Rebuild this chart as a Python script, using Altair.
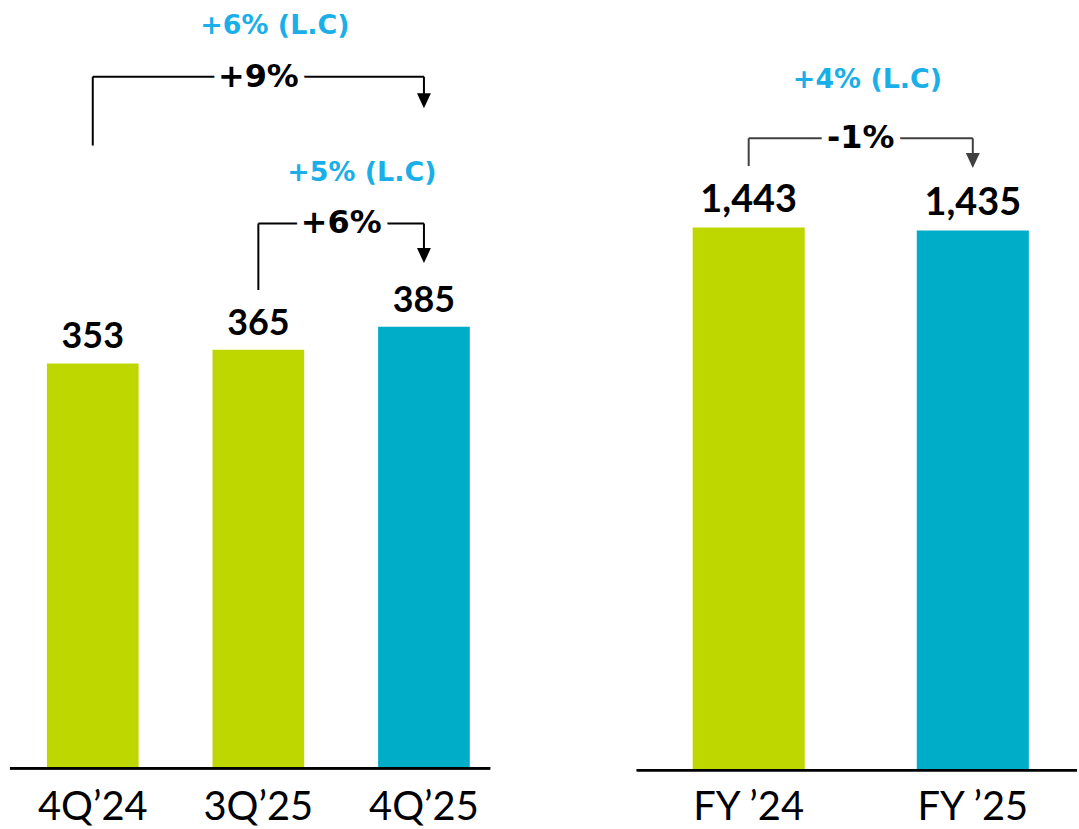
import altair as alt
import pandas as pd

# ---------------- data ----------------
q_labels = ["4Q’24", "3Q’25", "4Q’25"]
q_values = [353, 365, 385]
q_kind = ["prior", "prior", "current"]

fy_labels = ["FY ’24", "FY ’25"]
fy_values = [1443, 1435]
fy_kind = ["prior", "current"]

# growth annotations (from bar index -> to bar index)
q_from = [0, 1]
q_to = [2, 2]
q_change = ["+9%", "+6%"]
q_lc = ["+6%  (L.C)", "+5%  (L.C)"]

fy_from = [0]
fy_to = [1]
fy_change = ["-1%"]
fy_lc = ["+4%  (L.C)"]

# ---------------- annotation placement (data units) ----------------
q_start = [543, 417]      # bottom of the left bracket leg
q_level = [603, 475]      # bracket level
q_arrow = [582, 447]      # arrow head centre
q_lc_level = [647, 519]   # local-currency label level
q_lc_shift = [0.10, 0.125]  # horizontal shift of the local-currency label

fy_start = [1606]
fy_level = [1680]
fy_arrow = [1621]
fy_lc_level = [1834]
fy_lc_shift = [0.03]

# ---------------- style ----------------
GREEN = "#BFD700"
BLUE = "#00ADC9"
LIGHT_BLUE = "#1AAFE8"
FONT = "Lato"
ANN_FONT = "DejaVu Sans"
H = 829


def panel(labels, values, kinds, a_from, a_to, a_change, a_lc, a_start, a_level,
          a_arrow, a_lc_level, a_lc_shift, width, xdomain, ydomain, half, value_size,
          line_color, cat_dy):
    n = len(labels)
    bars = pd.DataFrame({"label": labels, "value": values, "kind": kinds, "idx": list(range(n))})
    xs = alt.Scale(domain=xdomain, nice=False, zero=False)
    ys = alt.Scale(domain=ydomain, nice=False, zero=False)

    base = alt.Chart(bars)
    bar = base.transform_calculate(
        x0=f"datum.idx - {half}", x1=f"datum.idx + {half}"
    ).mark_bar().encode(
        x=alt.X("x0:Q", scale=xs, axis=None),
        x2="x1:Q",
        y=alt.Y("value:Q", scale=ys, axis=None),
        y2=alt.datum(0),
        color=alt.Color("kind:N", scale=alt.Scale(domain=["prior", "current"], range=[GREEN, BLUE]), legend=None),
    )
    baseline = base.mark_rule(color="#000000", strokeWidth=2.5).encode(y=alt.datum(0))
    vals = base.mark_text(font=FONT, fontWeight="bold", fontSize=value_size, baseline="alphabetic",
                          dy=-15, color="#000000").encode(
        x=alt.X("idx:Q", scale=xs), y=alt.Y("value:Q", scale=ys), text=alt.Text("value:Q", format=",")
    )
    cats = base.mark_text(font=FONT, fontSize=40, baseline="alphabetic", dy=cat_dy, color="#000000").encode(
        x=alt.X("idx:Q", scale=xs), y=alt.datum(0), text="label:N"
    )

    segs = []
    for f, t, s, l, a in zip(a_from, a_to, a_start, a_level, a_arrow):
        segs.append({"x": f, "x2": f, "y": s, "y2": l})
        segs.append({"x": f, "x2": t, "y": l, "y2": l})
        segs.append({"x": t, "x2": t, "y": l, "y2": a})
    seg_df = pd.DataFrame(segs)
    lines = alt.Chart(seg_df).mark_rule(color=line_color, strokeWidth=2).encode(
        x=alt.X("x:Q", scale=xs), x2="x2:Q", y=alt.Y("y:Q", scale=ys), y2="y2:Q"
    )
    ann = pd.DataFrame({
        "mid": [(f + t) / 2 for f, t in zip(a_from, a_to)],
        "lc_x": [(f + t) / 2 + s for f, t, s in zip(a_from, a_to, a_lc_shift)],
        "to": a_to, "level": a_level, "arrow": a_arrow,
        "change": a_change, "lc": a_lc, "lc_level": a_lc_level,
    })
    achart = alt.Chart(ann)
    heads = achart.mark_point(shape="M-0.93,-1L0.93,-1L0,1Z", filled=True, size=225, opacity=1,
                              color=line_color).encode(
        x=alt.X("to:Q", scale=xs), y=alt.Y("arrow:Q", scale=ys)
    )
    halo = achart.mark_text(font=ANN_FONT, fontWeight="bold", fontSize=32, baseline="middle",
                            color="white", stroke="white", strokeWidth=14, strokeJoin="round").encode(
        x=alt.X("mid:Q", scale=xs), y=alt.Y("level:Q", scale=ys), text="change:N"
    )
    change = achart.mark_text(font=ANN_FONT, fontWeight="bold", fontSize=32, baseline="middle",
                              color="#000000").encode(
        x=alt.X("mid:Q", scale=xs), y=alt.Y("level:Q", scale=ys), text="change:N"
    )
    lc = achart.mark_text(font=ANN_FONT, fontWeight="bold", fontSize=27, baseline="middle",
                          color=LIGHT_BLUE).encode(
        x=alt.X("lc_x:Q", scale=xs), y=alt.Y("lc_level:Q", scale=ys), text="lc:N"
    )
    return alt.layer(bar, baseline, vals, cats, lines, heads, halo, change, lc).properties(
        width=width, height=H
    )


# left panel: zero at 769.5 px, 1.151 px per unit
left = panel(q_labels, q_values, q_kind, q_from, q_to, q_change, q_lc, q_start, q_level,
             q_arrow, q_lc_level, q_lc_shift, 482, [-0.5, 2.4],
             [-(H - 769.5) / 1.151, 769.5 / 1.151], 0.2768, 36, "#000000", 52)
# right panel: zero at 771.5 px, 0.37755 px per unit
right = panel(fy_labels, fy_values, fy_kind, fy_from, fy_to, fy_change, fy_lc, fy_start, fy_level,
              fy_arrow, fy_lc_level, fy_lc_shift, 442, [-0.5, 1.465],
              [-(H - 771.5) / 0.37755, 771.5 / 0.37755], 0.25, 38, "#404040", 50)

chart = alt.hconcat(left, right, spacing=147, bounds="flush").properties(
    padding={"left": 8, "top": 0, "right": 0, "bottom": 0}
).configure_view(stroke=None)

chart.save("out.html", embed_options={"renderer": "svg", "actions": False})
